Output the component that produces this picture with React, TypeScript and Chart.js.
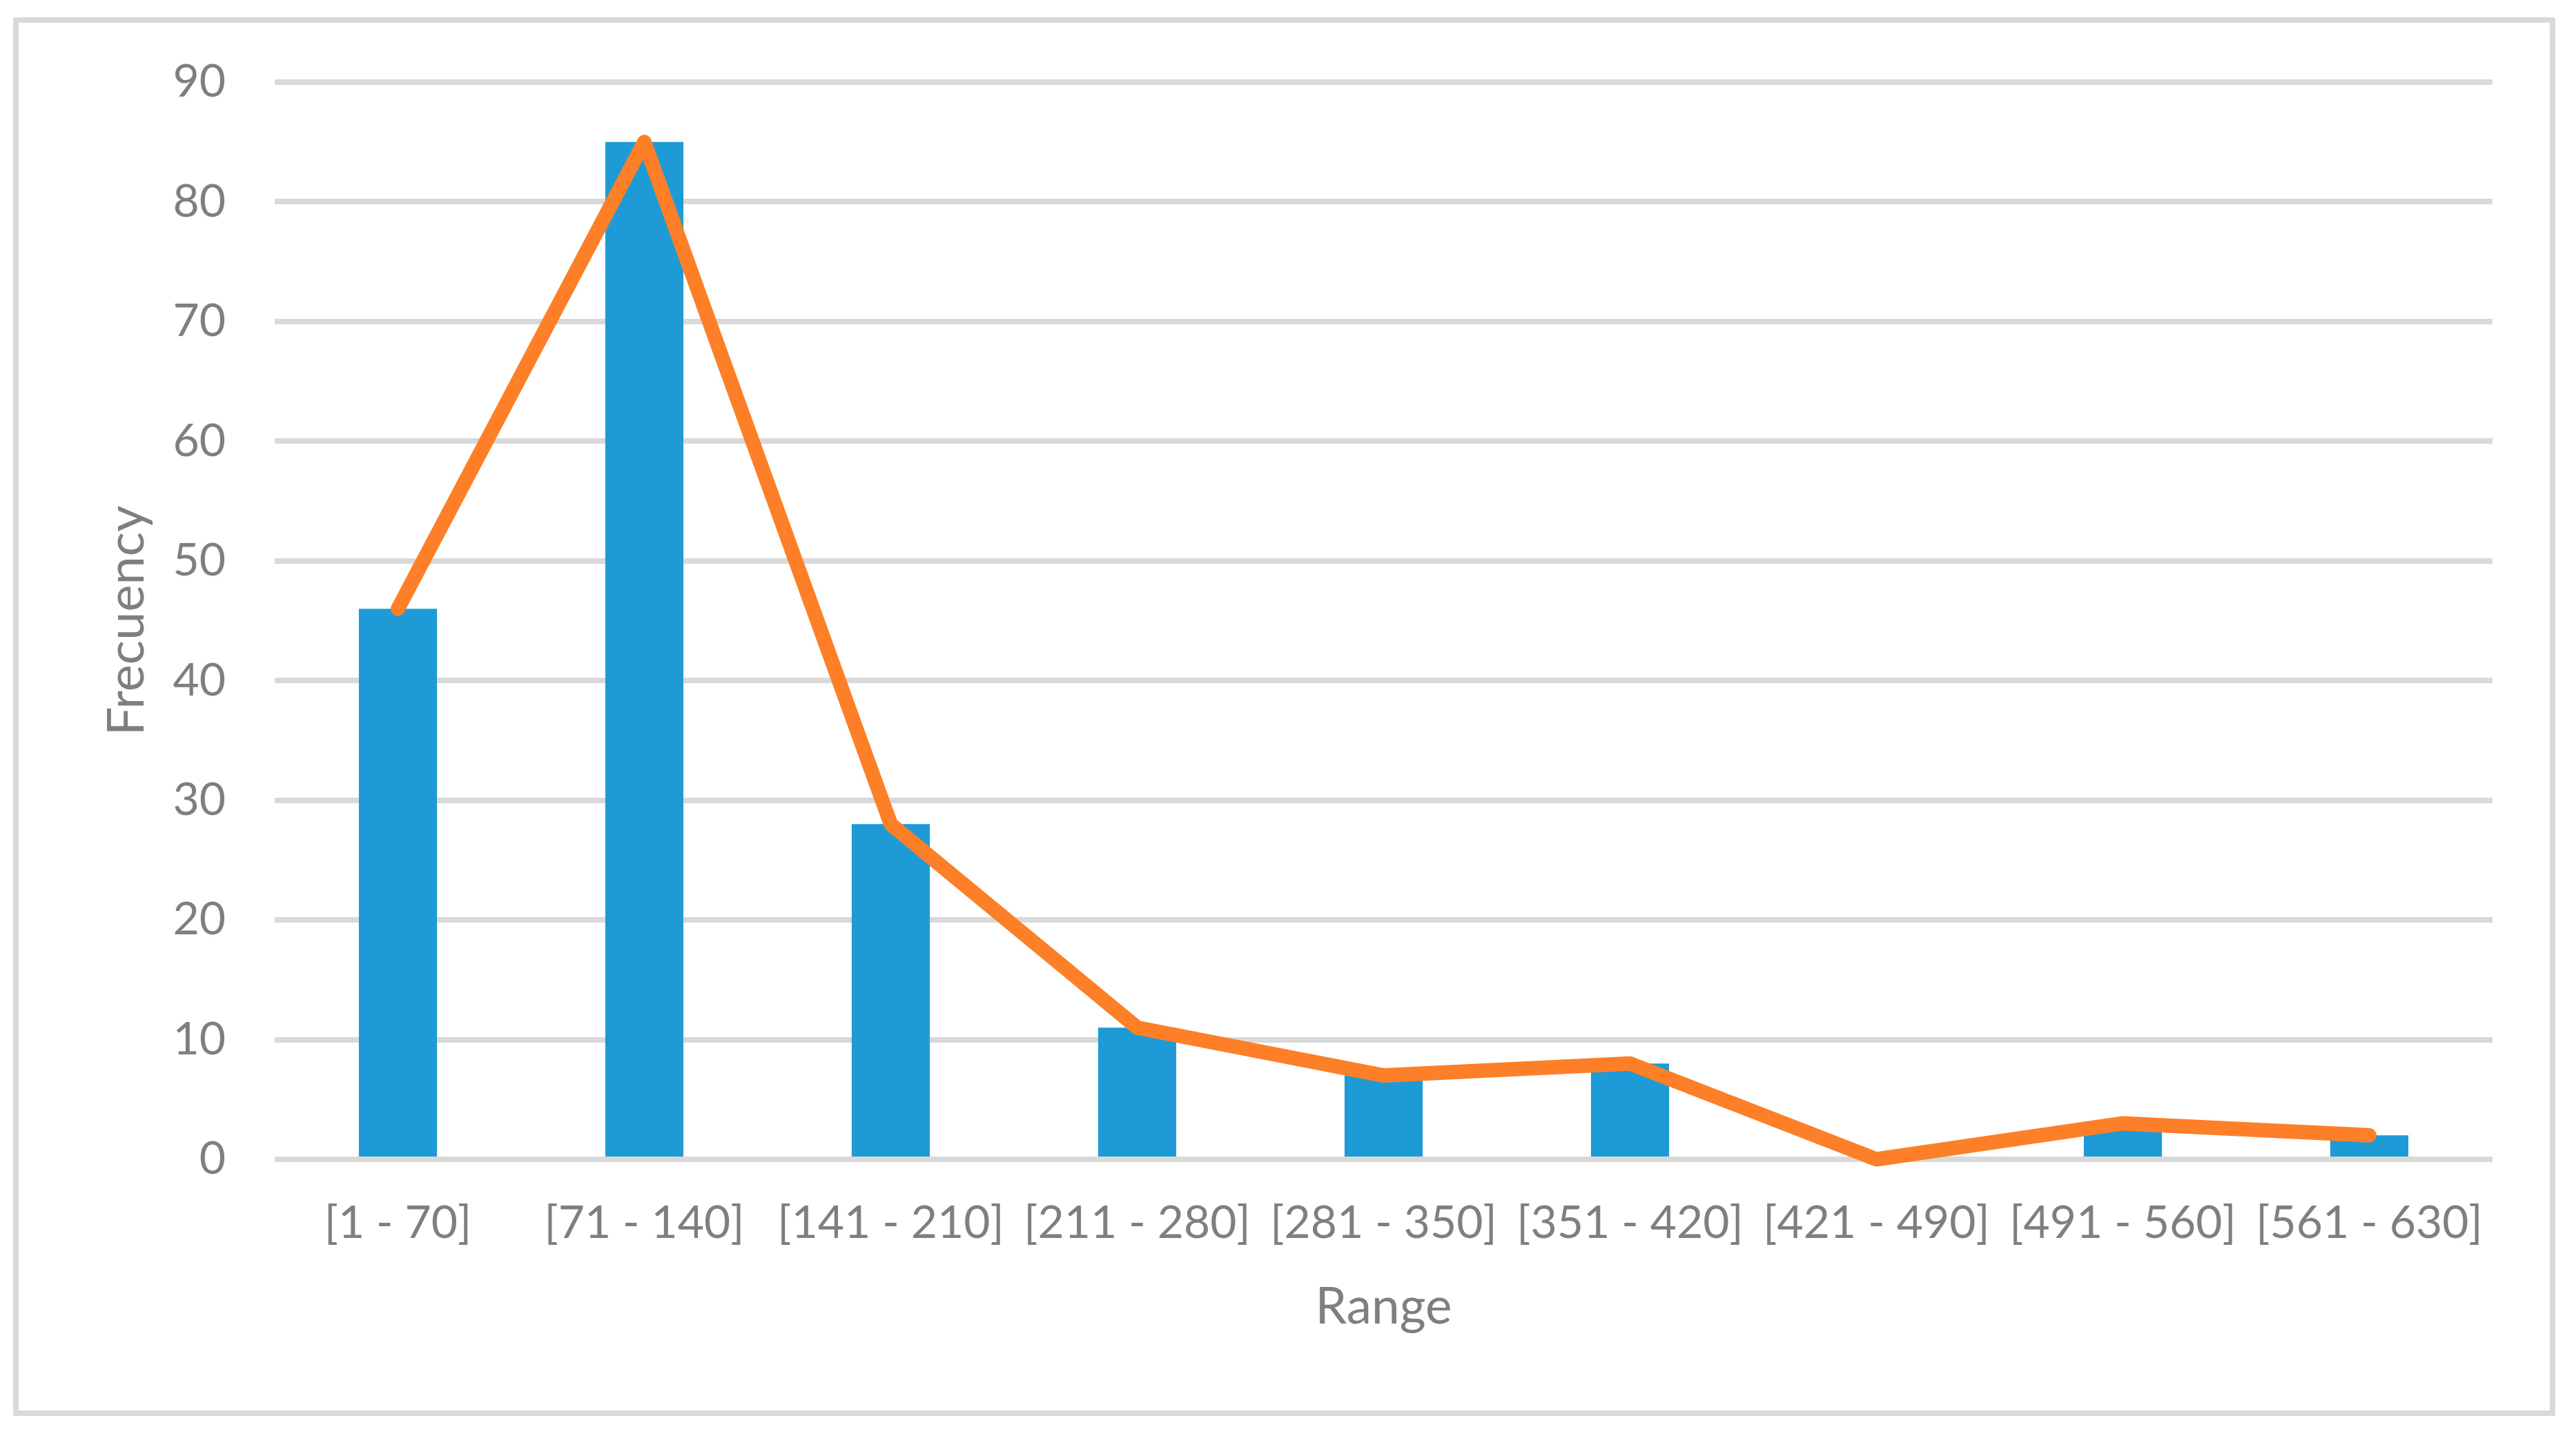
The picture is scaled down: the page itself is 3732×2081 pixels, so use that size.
import React, { useEffect, useRef } from "react";
import { Chart, registerables } from "chart.js";

Chart.register(...registerables);

const categories = [
  "[1 - 70]",
  "[71 - 140]",
  "[141 - 210]",
  "[211 - 280]",
  "[281 - 350]",
  "[351 - 420]",
  "[421 - 490]",
  "[491 - 560]",
  "[561 - 630]",
];
const barValues = [46, 85, 28, 11, 7, 8, 0, 3, 2];
const lineValues = [46, 85, 28, 11, 7, 8, 0, 3, 2];
const yMin = 0;
const yMax = 90;
const yStep = 10;
const xTitle = "Range";
const yTitle = "Frecuency";

const W = 3732;
const H = 2081;
const FONT = "Lato, 'Open Sans', sans-serif";
const TEXT = "#7f7f7f";
const GRID = "#d9d9d9";

const axisOverBars = {
  id: "axisOverBars",
  afterDatasetDraw(chart: any, args: any) {
    if (args.index !== 1) return;
    const { ctx, chartArea, scales } = chart;
    const y = scales.y.getPixelForValue(0);
    ctx.save();
    ctx.strokeStyle = GRID;
    ctx.lineWidth = 8;
    ctx.beginPath();
    ctx.moveTo(chartArea.left, y);
    ctx.lineTo(chartArea.right, y);
    ctx.stroke();
    ctx.restore();
  },
};

export default function App() {
  const ref = useRef<HTMLCanvasElement | null>(null);

  useEffect(() => {
    if (!ref.current) return;
    document.body.style.margin = "0";
    const chart = new Chart(ref.current, {
      type: "bar",
      data: {
        labels: categories,
        datasets: [
          {
            type: "line",
            label: "Line",
            data: lineValues,
            borderColor: "#FD7F27",
            backgroundColor: "#FD7F27",
            borderWidth: 21,
            borderCapStyle: "round",
            borderJoinStyle: "round",
            pointRadius: 0,
            pointHoverRadius: 0,
            tension: 0,
            clip: false,
            order: 0,
          } as any,
          {
            type: "bar",
            label: "Bars",
            data: barValues,
            backgroundColor: "#1E9BD7",
            borderWidth: 0,
            barPercentage: 0.317,
            categoryPercentage: 1,
            order: 1,
          } as any,
        ],
      },
      options: {
        responsive: false,
        devicePixelRatio: 1,
        animation: false,
        events: [],
        layout: { padding: { left: 0, top: 119, right: 121, bottom: 0 } },
        plugins: {
          legend: { display: false },
          tooltip: { enabled: false },
          title: { display: false },
        },
        scales: {
          x: {
            offset: true,
            grid: { display: false, drawTicks: false },
            border: { display: false },
            ticks: {
              color: TEXT,
              font: { family: FONT, size: 66 },
              padding: 53,
              maxRotation: 0,
              autoSkip: false,
            },
            title: {
              display: true,
              text: xTitle,
              color: TEXT,
              font: { family: FONT, size: 73 },
              padding: { top: 0, bottom: 143 },
            },
            afterFit(scale: any) {
              scale.height = 401;
            },
          },
          y: {
            min: yMin,
            max: yMax,
            grid: { color: GRID, lineWidth: 8, drawTicks: false },
            border: { display: false },
            ticks: {
              stepSize: yStep,
              color: TEXT,
              font: { family: FONT, size: 66 },
              padding: 71,
            },
            title: {
              display: true,
              text: yTitle,
              color: TEXT,
              font: { family: FONT, size: 74 },
              padding: { top: 140, bottom: 0 },
            },
            afterFit(scale: any) {
              scale.width = 398;
            },
          },
        },
      },
      plugins: [axisOverBars],
    });
    return () => chart.destroy();
  }, []);

  return (
    <div
      style={{
        position: "fixed",
        left: 0,
        top: 0,
        width: W,
        height: H,
        background: "#ffffff",
      }}
    >
      <canvas
        ref={ref}
        width={W}
        height={H}
        style={{ position: "absolute", left: 0, top: 0, width: W, height: H }}
      />
      <div
        style={{
          position: "absolute",
          left: 19,
          top: 25,
          width: 3683,
          height: 2027,
          boxSizing: "border-box",
          border: "8px solid #d9d9d9",
          borderRadius: 3,
          pointerEvents: "none",
        }}
      />
    </div>
  );
}
